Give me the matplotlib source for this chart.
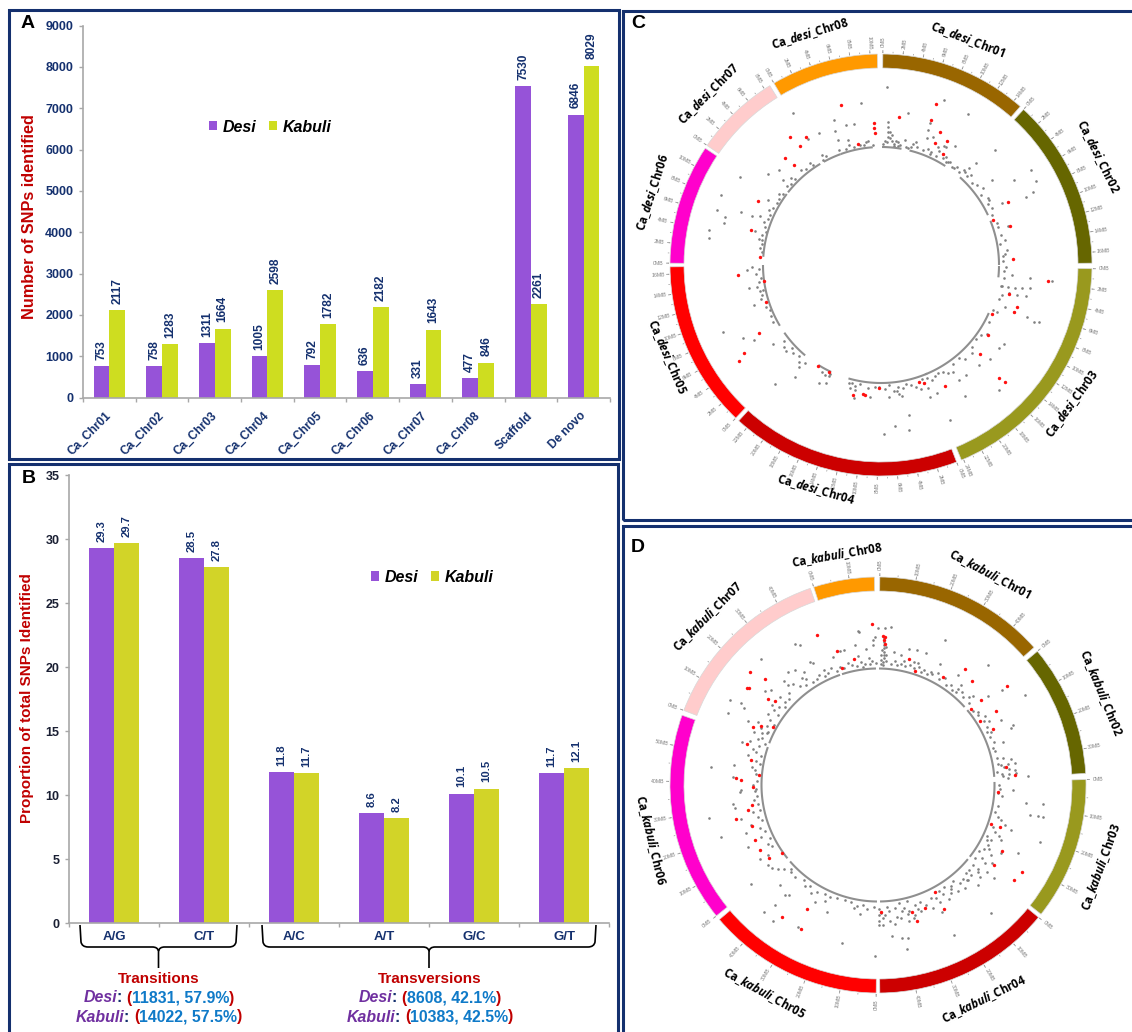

import numpy as np
import matplotlib
matplotlib.use('Agg')
import matplotlib.pyplot as plt
from matplotlib.patches import Rectangle, PathPatch
from matplotlib.path import Path

W, H = 1132, 1032
plt.rcParams['font.family'] = ['Liberation Sans', 'DejaVu Sans']
plt.rcParams['mathtext.fontset'] = 'custom'
plt.rcParams['mathtext.it'] = 'Open Sans:italic:bold'
plt.rcParams['mathtext.rm'] = 'Open Sans:bold'

# panel A
chrom_names = ['Ca_Chr01', 'Ca_Chr02', 'Ca_Chr03', 'Ca_Chr04', 'Ca_Chr05',
               'Ca_Chr06', 'Ca_Chr07', 'Ca_Chr08', 'Scaffold', 'De novo']
desi_counts = [753, 758, 1311, 1005, 792, 636, 331, 477, 7530, 6846]
kabuli_counts = [2117, 1283, 1664, 2598, 1782, 2182, 1643, 846, 2261, 8029]

# panel B
snp_types = ['A/G', 'C/T', 'A/C', 'A/T', 'G/C', 'G/T']
desi_prop = [29.3, 28.5, 11.8, 8.6, 10.1, 11.7]
kabuli_prop = [29.7, 27.8, 11.7, 8.2, 10.5, 12.1]

# panel C: chromosome arcs (degrees clockwise from top) and size in MB
chr_colors = ['#996600', '#666600', '#99991e', '#cc0000', '#ff0000', '#ff00cc', '#ffcccc', '#ff9900']
desi_start = [0.5, 42.5, 91, 159, 223.5, 270.5, 304.5, 329.5]
desi_end = [41.3, 89.5, 157.6, 222.4, 269.5, 303.6, 328.2, 359]
desi_ticks = [14, 16, 24, 22, 16, 10, 8, 10]
desi_label_theta = [21, 63.5, 126, 196, 246.8, 287.8, 314.9, 343]
desi_label_r = [241, 243, 236, 234, 233, 240, 243, 242]
desi_base = [(0.5, 10), (14, 33), (42, 65), (68, 90), (90.5, 96), (114, 158), (157, 196),
             (205, 212), (220, 235), (239, 270), (274, 307), (308, 329), (331, 340), (340, 356)]
desi_gray = [(2,178),(3,123),(3,128),(3,133),(3,138),(3,143),(4,127),(4,133),(5,124),(5,130),(6,122),(7,125),
    (8,124),(9,122),(10,154),(11,127),(14,122),(15,125),(16,128),(17,123),(19,143),(20,135),(21,177),(19,150),
    (22,138),(24,124),(26,131),(27,128),(28,135),(29,127),(30,174),(31,126),(32,140),(29,135),(33,123),
    (37,122),(38,124),(41,126),(42,125),(43,139),(42,131),(44.7,162),(57.7,177),(57.4,158),(52.6,140),(53,128),
    (61.4,176),(64.3,169),(64.7,160),(63,136),(59,126),(73,133),(72,123),(78.6,127),(83,127),(86,122),
    (94.4,131),(94.8,150),(95.5,172),(99.6,129),(99.6,136),(99.4,143),(98.9,151),(102.5,131),(102.4,139),(102,148),
    (100,123),(108.5,131),(109.4,141),(109.5,155),(110.4,163),(110,168),(112,121),(122.6,146),(125.3,144),(123,126),
    (130.5,144),(134,127),(135.7,140),(142.5,139),(146,139),(146,129),(147.4,156),(136.7,172),(156,170),(156.4,140),
    (159.5,141),(159,132),(160,126),(169.5,153),(170.5,167),(175,162),(179,169),(171,133),(172.8,127),(172,130),
    (176.5,132),(181,122),(184.6,132),(191.6,128),(193.8,121),(191.6,136),(205,130),(207.8,133),(205,120),(219,131),
    (217.5,141),(220,127),(221.6,159),(228,128),(234,134),(239.5,147),(242,156),(247,172),(260,134),(252.6,133),
    (258,124),(269,129),(268,134),(278.8,174),(281.5,176),(285,163),(287,163),(288.5,173),(293.5,175),(290.8,150),
    (302,166),(290.8,138),(285,130),(292,131),(282,122),(300,131),(309,145),(313,140),(311,130),(330,176),(335,146),
    (330,146),(342,152),(341,142),(341,132),(346,144),(349,144),(353,163),(345,129),(353,124),
    (1,121),(2,124),(6,120),(8,120),(12,121),(13,120),(340,122),(343,121),(345,124),(347,121),(350,122),(352,121),
    (354,125),(356,120),(333,122),(332,125),(331,120),(326,121),(325,124),(322,122),(320,124),(315,122),(314,125),
    (312,121),(310,123),(306,121),(305,124),(303,122),(301,121),(298,122),(296,125),(294,122),(292,122),(290,125),
    (288,122),(286,120),(284,123),(282,125),(280,121),(278,122),(276,120),(268,122),(266,125),(264,121),(262,123),
    (260,126),(258,121),(256,123),(254,125),(250,122),(248,120),(245,121),(242,122),(232,123),(230,127),(227,122),
    (225,125),(222,122),(218,124),(209,122),(207,124),(205,123),(195,122),(194,127),(192,124),(190,121),(186,124),
    (183,122),(178,124),(176,120),(174,127),(172,123),(170,125),(168,122),(166,124),(164,127),(162,130),(160,121),
    (158,122),(156,126),(154,124),(152,122),(150,123),(148,127),(144,122),(140,121),(138,126),(132,122),(128,121),
    (125,122),(118,122),(112,125),(106,123),(104,125),(100,122),(96,124),(93,123),(91,125),(88,122),(85,124),(80,121),
    (76,124),(70,123),(66,122),(63,125),(60,123),(58,126),(55,122),(50,125),(48,122),(45,127),(44,124),(40,121),
    (36,121),(34,124),(32,122),(30,123),(27,122),(24,121),(22,125),(20,122)]
desi_red = [(357,142),(357,137),(357.5,132),(7,149),(19,153),(19,170),(24,146),(24,133),(28,140),(29,127),(349,123),
    (346,165),(324.5,157),(326,144),(329.5,148),(318,144),(319,132),(297.5,139),(285,135),(274,121),(68,121),
    (63.6,142),(73,135),(87.5,132),(95.5,168),(103,131),(107,142),(109.5,141),(114,121),(123,128),(132,133),
    (133.3,171),(133.7,163),(152,137),(160,126),(162,123),(181,123),(192,133),(188,130),(187,131),(206,119),
    (212,119),(237.5,163),(236,171),(241,140),(266,143),(262,118),(252,121)]

# panel D
kabuli_start = [0.5, 50, 88.5, 129.5, 180.5, 231, 291, 342]
kabuli_end = [48.6, 86.8, 128.4, 179.5, 229.7, 289.6, 341, 359]
kabuli_ticks = [40, 30, 30, 40, 40, 50, 40, 10]
kabuli_label_theta = [28, 67.6, 110, 153.7, 208.7, 256.4, 314.7, 350]
kabuli_label_r = [239, 241, 238, 239, 237, 234, 239, 233]
kabuli_base = [(0.5, 48), (50, 86), (88.5, 128), (129.5, 179), (180.5, 229), (231, 289), (291, 341), (342, 359)]
kabuli_gray = [(0,157),(4.8,159),(2.4,157),(359,148),(358,145),(350.5,142),(352.6,155),(2.5,147),(2.5,143),(2.5,140),
    (2.5,137),(2.5,133),(2.5,130),(2.5,127),(2.5,123),(2.5,120),(1.5,135),(1.5,130),(1.5,125),(1.5,121),(3.5,138),
    (3.5,130),(3.5,124),(7,134),(10,132),(13,140),(16,140),(20,140),(24.7,160),(16.5,128),(18,128),(27,136),(25,125),
    (36,136),(39.8,130),(39.6,125),(47,130),(42.5,163),(52.4,156),(58.5,172),(62,139),(51,141),(67,145),(66,148),
    (70.9,132),(69.6,124),(81,125),(81,132),(81,139),(85,124),(85,131),(85,139),(86.4,150),(83.7,138),(92,135),
    (97,149),(96.7,166),(101,168),(101,155),(101,163),(108.6,140),(107.5,133),(109.3,172),(116,156),(119,141),
    (114,135),(116,126),(118.6,125),(127,121),(124.6,138),(130,130),(134,129),(128.6,139),(128.7,149),(135,141),
    (136.6,131),(140,135),(143,133),(145,127),(138.6,171),(153.4,142),(153,127),(158,129),(162,130),(164,135),
    (167,140),(166,130),(168,126),(170,135),(170,120),(166,120),(153,168),(169,156),(171,155),(174.6,152),(170,167),
    (175,137),(178,133),(178,140),(179.5,124),(179.5,130),(179.5,136),(179.5,140),(178.5,128),(181,171),(193,162),
    (188,130),(191,125),(196,120),(204.6,128),(208.5,133),(202,137),(209.5,163),(220.7,158),(220,144),(219,142),
    (224.6,140),(232,161),(232,135),(225,123),(222,171),(217.7,172),(234,136),(238,139),(237.5,131),(244.6,144),
    (250,140),(251.7,165),(259,172),(252.5,133),(256,141),(261,145),(262.7,146),(267,138),(258,128),(267,123),
    (276,168),(278,145),(273,145),(268,137),(278,127),(283,133),(285.3,126),(291,129),(287.6,143),(296,130),(296,122),
    (297.8,136),(296,145),(295.6,166),(300,171),(301,160),(300,155),(309.5,147),(311.7,143),(312,132),(311.8,125),
    (317,172),(321.5,145),(324,142),(324.4,131),(324.4,123),(329.5,164),(330.8,160),(331,141),(331.9,138),(335,127),
    (340.7,136),(344,139),(346,139),(351,131),(353,154),(355,137),(358,140),(356,127),(353,119),
    (305,122),(306,128),(307,133),(308,126),(310,121),(314,124),(316,128),(318,135),(318,140),(320,132),(322,126),
    (326,128),(327,135),(328,122),(275,122),(277,124),(280,120),(281,124),(284,121),(286,130),(288,125),(289,135),
    (290,120),(292,125),(293,135),(294,127),(295,122),(298,126),(300,120),(301,126),(303,131),(240,122),(242,125),
    (244,120),(246,128),(248,122),(250,126),(253,121),(255,124),(258,121),(261,121),(263,125),(265,121),(268,122),
    (270,125),(272,121),(200,120),(203,122),(206,121),(210,123),(212,127),(214,122),(216,125),(218,121),(222,124),
    (226,121),(228,126),(230,130),(182,122),(185,124),(187,121),(190,123),(193,120),(130,124),(131,133),(132,137),
    (133,125),(135,124),(137,130),(138,127),(140,128),(142,122),(144,125),(146,130),(147,122),(148,134),(149,127),
    (150,122),(152,132),(155,125),(156,135),(160,124),(161,133),(163,125),(165,138),(167,132),(169,128),(172,124),
    (172,133),(173,140),(175,126),(176,122),(177,130),(100,122),(103,120),(105,124),(106,128),(110,122),(112,126),
    (113,131),(115,120),(117,122),(120,128),(121,124),(122,133),(123,121),(125,127),(126,132),(90,121),(92,122),
    (94,120),(95,124),(77,122),(78,128),(79,135),(80,122),(82,127),(83,132),(84,120),(86,125),(87,130),(72,121),
    (74,122),(40,122),(42,125),(44,122),(46,126),(48,122),(52,120),(54,124),(55,122),(57,127),(59,124),(60,128),
    (62,123),(64,121),(65,125),(67,122),(6,122),(8,125),(9,121),(11,123),(12,127),(13,122),(15,124),(17,122),(19,125),
    (21,121),(22,124),(24,121),(26,123),(28,127),(30,122),(32,126),(34,121),(36,124),(38,121),(330,122),(332,125),
    (334,121),(336,123),(338,126),(340,121),(342,124),(344,122),(346,126),(348,123),(350,121),(352,124),(354,122),
    (356,121),(357,124),(359,122)]
kabuli_red = [(358,161),(2,149),(2.5,145),(3,141),(14,130),(37,145),(42,140),(31,126),(349,128),(343,140),(343,122),
    (338,162),(313,155),(311.5,171),(306.5,163),(307,161),(308,139),(309,133),(295,138),(296.8,131),(299,120),
    (287.6,137),(281,129),(275,119),(269,125),(272.7,142),(272,137),(261,128),(256.5,146),(259,132),(252,133),
    (246,135),(241,135),(236,131),(234.7,118),(209.7,143),(216,163),(208,163),(178.5,127),(165,131),(164,142),
    (159,132),(152,141),(152,121),(125,166),(121,168),(118,141),(124.6,141),(109,129),(109,119),(93.5,120),(85.8,137),
    (81.9,129),(58,120),(51,120),(64,128),(58,139),(50.5,134),(52.6,163),(2.6,148),(17.8,120)]

navy = '#14306e'
purple = '#9653d8'
green_a = '#cedd20'
green_b = '#d2d428'
dark_red = '#c00000'
blue = '#0f7ac8'
axis_gray = '#a8a8a8'


def px_axes(fig, x0, y0, x1, y1, **kw):
    return fig.add_axes([x0 / W, 1 - y1 / H, (x1 - x0) / W, (y1 - y0) / H], **kw)


def bar_panel(ax, names, v1, v2, col2, width, ymax, step, fs_val, tick_color):
    x = np.arange(len(names)) + 0.5
    ax.bar(x - width / 2, v1, width, color=purple, label='Desi')
    ax.bar(x + width / 2, v2, width, color=col2, label='Kabuli')
    ax.set_xlim(0, len(names))
    ax.set_ylim(0, ymax)
    ax.set_yticks(np.arange(0, ymax + 1, step))
    ax.set_xticks(np.arange(len(names) + 1))
    ax.set_xticklabels([])
    ax.tick_params(axis='both', color=axis_gray, length=3, width=1)
    ax.tick_params(axis='y', labelcolor=tick_color, labelsize=9, pad=4)
    for lab in ax.get_yticklabels():
        lab.set_fontweight('bold')
    for s in ['top', 'right']:
        ax.spines[s].set_visible(False)
    for s in ['left', 'bottom']:
        ax.spines[s].set_color(axis_gray)
        ax.spines[s].set_linewidth(1.2)
    for i, (a, b) in enumerate(zip(v1, v2)):
        for xx, v in ((x[i] - width / 2, a), (x[i] + width / 2, b)):
            ax.annotate(str(v), (xx, v), xytext=(0, 4.5), textcoords='offset points', ha='center', va='bottom',
                        rotation=90, fontsize=fs_val, color=navy, fontweight='bold')


def legend_panel(ax, x, y):
    leg = ax.legend(loc='center', bbox_to_anchor=(x, y), ncol=2, frameon=False, handlelength=0.5, handleheight=0.5,
                    handletextpad=0.35, columnspacing=0.8, prop={'style': 'italic', 'weight': 'bold', 'size': 11.5},
                    borderpad=0, labelspacing=0)
    return leg


def brace(fig, x0, x1, top, mid, tip):
    c = (x0 + x1) / 2
    pts = [(x0, top), (x0 + 1, mid - 5), (x0 + 2, mid), (x0 + 8, mid), (c - 6, mid), (c - 1, mid), (c, mid + 4), (c, tip),
           (c, mid + 4), (c + 1, mid), (c + 6, mid), (x1 - 8, mid), (x1 - 2, mid), (x1 - 1, mid - 5), (x1, top)]
    codes = [Path.MOVETO, Path.LINETO, Path.CURVE3, Path.CURVE3, Path.LINETO, Path.CURVE3, Path.CURVE3, Path.LINETO,
             Path.MOVETO, Path.CURVE3, Path.CURVE3, Path.LINETO, Path.CURVE3, Path.CURVE3, Path.LINETO]
    verts = [(p[0] / W, 1 - p[1] / H) for p in pts]
    fig.add_artist(PathPatch(Path(verts, codes), transform=fig.transFigure, fc='none', ec='black', lw=1.2))


def multicolor(fig, xc, y, pieces, size):
    # pieces are laid out left to right, then shifted so the row is centred on xc
    rend = fig.canvas.get_renderer()
    items = []
    x = 0
    for s, col, style in pieces:
        t = fig.text(0, 1 - y / H, s, color=col, style=style, fontweight='bold', fontsize=size, va='center', ha='left')
        w = t.get_window_extent(rend).width
        items.append((t, x))
        x += w
    for t, off in items:
        t.set_x((xc - x / 2 + off) / W)


def circos(fig, cx, cy, r_out, r_in, r_base, start, end, ticks, deg_per_mb, major, names, lab_th, lab_r, base, gray, red):
    size = 240
    ax = fig.add_axes([(cx - size) / W, 1 - (cy + size) / H, 2 * size / W, 2 * size / H], projection='polar')
    ax.set_theta_zero_location('N')
    ax.set_theta_direction(-1)
    ax.set_ylim(0, size)
    ax.axis('off')
    ax.patch.set_alpha(0)
    for i in range(8):
        s, e = np.radians(start[i]), np.radians(end[i])
        ax.bar((s + e) / 2, r_out - r_in, width=e - s, bottom=r_in, color=chr_colors[i], edgecolor='#d8d8d8', linewidth=0.5)
        mb = np.arange(0, ticks[i] + 1, major / 2)
        th = np.radians(start[i] + mb * deg_per_mb)
        ax.vlines(th, r_out + 1, r_out + 2.5, color='#999999', lw=0.5)
        ax.vlines(th[::2], r_out + 1, r_out + 4, color='#999999', lw=0.6)
        for m in mb[::2]:
            deg = start[i] + m * deg_per_mb
            rot = 90 - deg if deg < 180 else 270 - deg
            ax.text(np.radians(deg), r_out + 12, '%dMB' % m, fontsize=3.8, color='#808080', rotation=rot,
                    ha='center', va='center', rotation_mode='anchor', clip_on=False)
        deg = lab_th[i]
        rot = -deg if deg < 90 or deg > 270 else 180 - deg
        ax.text(np.radians(deg), lab_r[i], names[i], fontsize=8.3, fontweight='bold', color='black', rotation=rot,
                ha='center', va='center', rotation_mode='anchor', clip_on=False, family='Open Sans')
    for a, b in base:
        th = np.radians(np.arange(a, b + 0.5, 0.5))
        ax.plot(th, np.full_like(th, r_base), color='#8f8f8f', lw=1.5, solid_capstyle='butt')
    g = np.array(gray)
    ax.scatter(np.radians(g[:, 0]), g[:, 1], s=3.5, color='#808080', linewidths=0)
    d = np.array(red)
    ax.scatter(np.radians(d[:, 0]), d[:, 1], s=6, color='#ff1010', linewidths=0, zorder=3)
    return ax


fig = plt.figure(figsize=(W / 100, H / 100), dpi=100, facecolor='white')

# panel frames
frames = [(9, 10, 610, 449), (9, 464, 609, 575), (623, 11, 520, 509), (623, 526, 520, 520)]
for x, y, w, h in frames:
    fig.add_artist(Rectangle((x / W, 1 - (y + h) / H), w / W, h / H, transform=fig.transFigure,
                             fc='none', ec=navy, lw=2.2))

# A
ax_a = px_axes(fig, 83, 25.5, 610, 397.5)
bar_panel(ax_a, chrom_names, desi_counts, kabuli_counts, green_a, 0.3, 9000, 1000, 8.6, navy)
for i, name in enumerate(chrom_names):
    ax_a.annotate(name, (i + 0.5, 0), xytext=(-3, -9), textcoords='offset points', rotation=45, ha='right', va='top',
                  rotation_mode='anchor', fontsize=8.6, color=navy, fontweight='bold')
ax_a.set_ylabel('Number of SNPs identified', color=dark_red, fontsize=11.7, fontweight='bold')
ax_a.yaxis.set_label_coords((37 - 83) / 527, 0.487)
legend_panel(ax_a, 0.356, 0.727)

# B
ax_b = px_axes(fig, 69, 475, 609, 923)
bar_panel(ax_b, snp_types, desi_prop, kabuli_prop, green_b, 0.283, 35, 5, 8.1, '#1a1f33')
for i, name in enumerate(snp_types):
    ax_b.annotate(name, (i + 0.5, 0), xytext=(0, -10), textcoords='offset points', ha='center', va='center',
                  fontsize=9.5, color=navy, fontweight='bold')
ax_b.set_ylabel('Proportion of total SNPs Identified', color=dark_red, fontsize=11, fontweight='bold')
ax_b.yaxis.set_label_coords((34.5 - 69) / 540, 0.502)
legend_panel(ax_b, 0.673, 0.772)

brace(fig, 80, 237, 925, 947, 968)
brace(fig, 262, 596, 925, 947, 968)
fig.text(159 / W, 1 - 979 / H, 'Transitions', color=dark_red, fontsize=11, fontweight='bold', ha='center', va='center')
fig.text(430 / W, 1 - 979 / H, 'Transversions', color=dark_red, fontsize=11, fontweight='bold', ha='center', va='center')
fig.canvas.draw()
dark_purple = '#7030a0'
rows = [(159, 998, 'Desi', '11831, 57.9%'), (159, 1017, 'Kabuli', '14022, 57.5%'),
        (430, 998, 'Desi', '8608, 42.1%'), (430, 1017, 'Kabuli', '10383, 42.5%')]
for xc, yc, who, val in rows:
    multicolor(fig, xc, yc, [(who, dark_purple, 'italic'), (': ', navy, 'normal'), ('(', dark_red, 'normal'),
                             (val, blue, 'normal'), (')', dark_red, 'normal')], 11.4)

# C, D
desi_names = [r'Ca_$\mathit{desi}$_Chr0%d' % i for i in range(1, 9)]
kabuli_names = [r'Ca_$\mathit{kabuli}$_Chr0%d' % i for i in range(1, 9)]
circos(fig, 881, 265, 211, 197, 118, desi_start, desi_end, desi_ticks, 2.75, 2, desi_names,
       desi_label_theta, desi_label_r, desi_base, desi_gray, desi_red)
circos(fig, 878, 785, 208, 194, 116.5, kabuli_start, kabuli_end, kabuli_ticks, 1.0, 10, kabuli_names,
       kabuli_label_theta, kabuli_label_r, kabuli_base, kabuli_gray, kabuli_red)

# panel letters
for s, x, y in [('A', 28, 24), ('B', 28.5, 479), ('C', 638, 24), ('D', 638, 548)]:
    fig.text(x / W, 1 - y / H, s, fontsize=14, fontweight='bold', color='black', ha='center', va='center')

fig.savefig('out.png', dpi=100)
